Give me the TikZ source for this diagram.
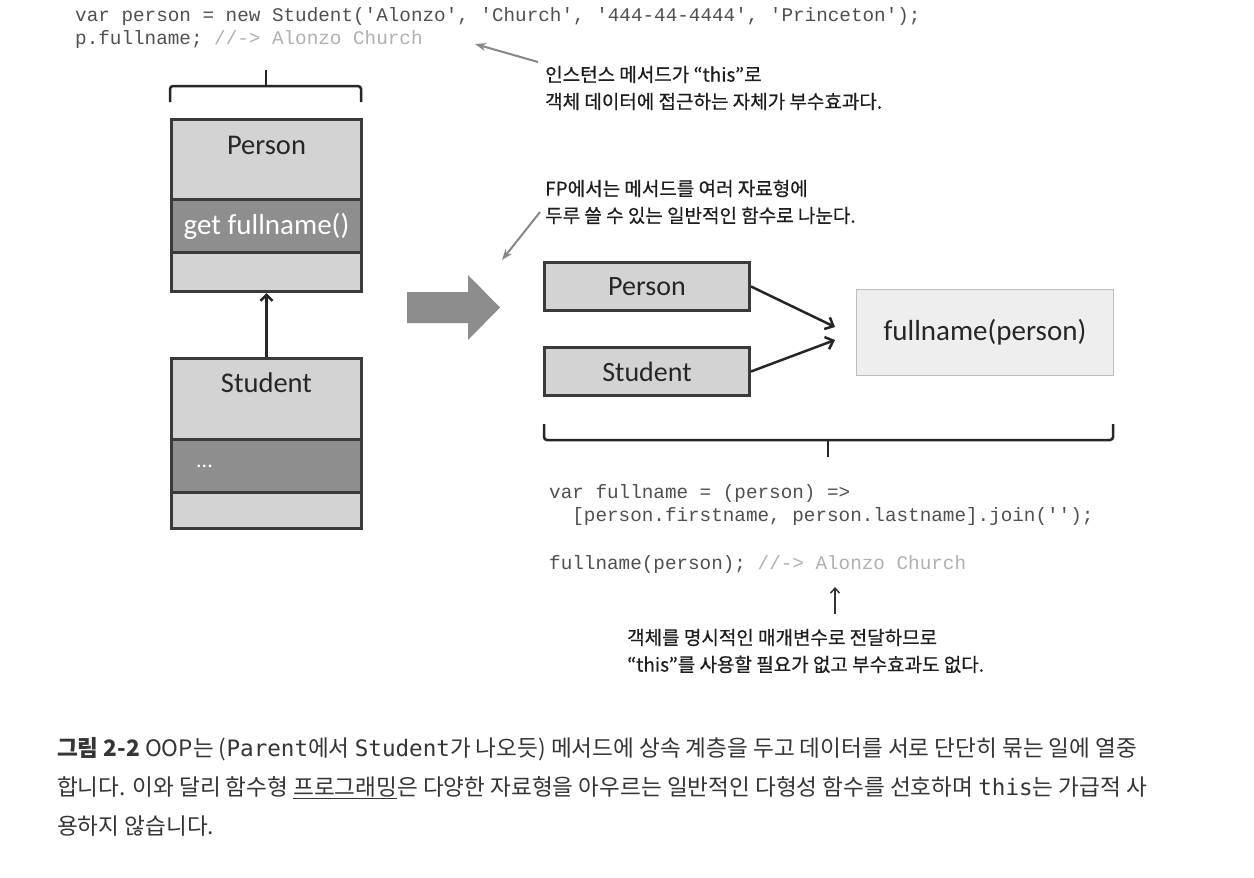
\documentclass[tikz,border=0pt]{standalone}
\usepackage{fontspec}
\setmainfont{Carlito}
\newfontfamily\kr[FakeBold=0.6]{Noto Sans CJK KR}
\newfontfamily\krcap{Noto Sans CJK KR}
\newfontfamily\code[Ligatures=TeXOff]{Liberation Mono}
\newfontfamily\cmono[Ligatures=TeXOff]{DejaVu Sans Mono}
\usetikzlibrary{arrows.meta}
\definecolor{codec}{HTML}{505050}
\definecolor{commc}{HTML}{B0B0B0}
\definecolor{lightfill}{HTML}{D3D3D3}
\definecolor{darkfill}{HTML}{8E8E8E}
\definecolor{edgec}{HTML}{3A3A3A}
\definecolor{fnfill}{HTML}{EEEEEE}
\definecolor{fnedge}{HTML}{BDBDBD}
\definecolor{annoarrow}{HTML}{888888}
\definecolor{bigarrowc}{HTML}{8C8C8C}
\definecolor{txt}{HTML}{1E1E1E}
\tikzset{
  codetext/.style={font=\code\fontsize{19.3}{23}\selectfont, text=codec, inner sep=0pt, anchor=base west},
  lightsec/.style={draw=edgec, fill=lightfill, line width=3pt, minimum width=190pt, inner sep=0pt, anchor=north west},
  darksec/.style={lightsec, fill=darkfill},
  boxlabel/.style={font=\fontsize{28.5}{32}\selectfont, text=black!85, inner sep=0pt},
  whitelabel/.style={font=\fontsize{29}{32}\selectfont, text=white, inner sep=0pt},
  fpbox/.style={draw=edgec, fill=lightfill, line width=3pt, minimum width=205pt, minimum height=48pt, inner sep=0pt, anchor=north west, font=\fontsize{28}{32}\selectfont, text=black!85},
  fnbox/.style={draw=fnedge, fill=fnfill, line width=1pt, minimum width=257pt, minimum height=86pt, inner sep=0pt, anchor=north west, font=\fontsize{29}{32}\selectfont, text=black!85},
  anno/.style={font=\kr\fontsize{19}{27}\selectfont, text=txt, inner sep=0pt, align=left, anchor=west},
  caption/.style={font=\krcap\fontsize{22.6}{27}\selectfont, text=txt!90, inner sep=0pt, anchor=base west},
  grayarr/.style={draw=annoarrow, line width=2pt, -{Stealth[length=11pt, width=8pt]}},
  blackarr/.style={draw=black!85, line width=2.5pt, -{Straight Barb[length=7pt, width=13pt]}},
  bracestyle/.style={draw=black!85, line width=2.5pt, rounded corners=3pt},
}
\begin{document}
\begin{tikzpicture}[x=1pt, y=-1pt]
\useasboundingbox (0,0) rectangle (1254,878);
\fill[white] (0,0) rectangle (1254,878);

% top code
\node[codetext] (code1) at (75,21) {var person = new Student('Alonzo', 'Church', '444-44-4444', 'Princeton');};
\node[codetext] (code2) at (75,44) {p.fullname; \textcolor{commc}{//-> Alonzo Church}};

% annotation 1
\node[anno] (anno1) at (545,88) {인스턴스 메서드가 “this”로\\객체 데이터에 접근하는 자체가 부수효과다.};
\coordinate (a1s) at (538,62);
\coordinate (a1e) at (475,44);
\draw[grayarr] (a1s) -- (a1e);

% left brace
\coordinate (lb1) at (170,102);
\coordinate (lbt) at (266,86);
\coordinate (lbtip) at (266,70);
\coordinate (lb2) at (361,102);
\draw[bracestyle] (lb1) |- (lbt) -| (lb2);
\draw[draw=black!85, line width=2.5pt] (lbt) -- (lbtip);

% Person class
\node[lightsec, minimum height=80pt] (pTop) at (170,118) {};
\node[darksec, minimum height=53pt] (pMid) at (170,198) {};
\node[lightsec, minimum height=39pt] (pBot) at (170,251) {};
\node[boxlabel] (pName) at (pTop.center |- 0,145) {Person};
\node[whitelabel] (pMeth) at (pMid.center) {get fullname()};

% Student class
\node[lightsec, minimum height=81pt] (sTop) at (170,357) {};
\node[darksec, minimum height=53pt] (sMid) at (170,438) {};
\node[lightsec, minimum height=36pt] (sBot) at (170,491) {};
\node[boxlabel] (sName) at (sTop.center |- 0,383) {Student};
\node[whitelabel, font=\fontsize{22}{24}\selectfont, anchor=west] (sDots) at (196,466) {...};

\draw[draw=black!85, line width=2.5pt, -{Straight Barb[length=6pt, width=12pt]}] (sTop.north) -- (pBot.south);

% big arrow
\fill[bigarrowc] (407,292) -- (468,292) -- (468,275) -- (500,307.5) -- (468,340) -- (468,323) -- (407,323) -- cycle;

% annotation 2
\node[anno] (anno2) at (545,202) {FP에서는 메서드를 여러 자료형에\\두루 쓸 수 있는 일반적인 함수로 나눈다.};
\coordinate (a2s) at (540,212);
\coordinate (a2e) at (502,260);
\draw[grayarr] (a2s) -- (a2e);

% FP boxes
\node[fpbox] (fpPerson) at (543,261) {Person};
\node[fpbox] (fpStudent) at (543,346) {Student};
\node[fnbox] (fn) at (856,289) {fullname(person)};
\coordinate (t1) at (835,327);
\coordinate (t2) at (835,340);
\draw[blackarr] (fpPerson.east) -- (t1);
\draw[blackarr] (fpStudent.east) -- (t2);

% bottom brace
\coordinate (bb1) at (544,424);
\coordinate (bbt) at (828,440);
\coordinate (bbtip) at (828,457);
\coordinate (bb2) at (1113,424);
\draw[bracestyle] (bb1) |- (bbt) -| (bb2);
\draw[draw=black!85, line width=2.5pt] (bbt) -- (bbtip);

% bottom code
\node[codetext] (code3) at (549,498) {var fullname = (person) =>};
\node[codetext] (code4) at (549,521) {\ \ [person.firstname, person.lastname].join('');};
\node[codetext] (code5) at (549,569) {fullname(person); \textcolor{commc}{//-> Alonzo Church}};

% annotation 3
\coordinate (a3s) at (835,614);
\coordinate (a3e) at (835,587);
\draw[draw=black!80, line width=1.5pt, -{Straight Barb[length=5pt, width=9pt]}] (a3s) -- (a3e);
\node[anno] (anno3) at (627,651) {객체를 명시적인 매개변수로 전달하므로\\“this”를 사용할 필요가 없고 부수효과도 없다.};

% caption
\node[caption] (cap1) at (57,756) {{\bfseries 그림 2-2} OOP는 ({\cmono Parent}에서 {\cmono Student}가 나오듯) 메서드에 상속 계층을 두고 데이터를 서로 단단히 묶는 일에 열중};
\node[caption] (cap2) at (57,795) {합니다. 이와 달리 함수형 \underline{프로그래밍}은 다양한 자료형을 아우르는 일반적인 다형성 함수를 선호하며 {\cmono this}는 가급적 사};
\node[caption] (cap3) at (57,834) {용하지 않습니다.};
\end{tikzpicture}
\end{document}
